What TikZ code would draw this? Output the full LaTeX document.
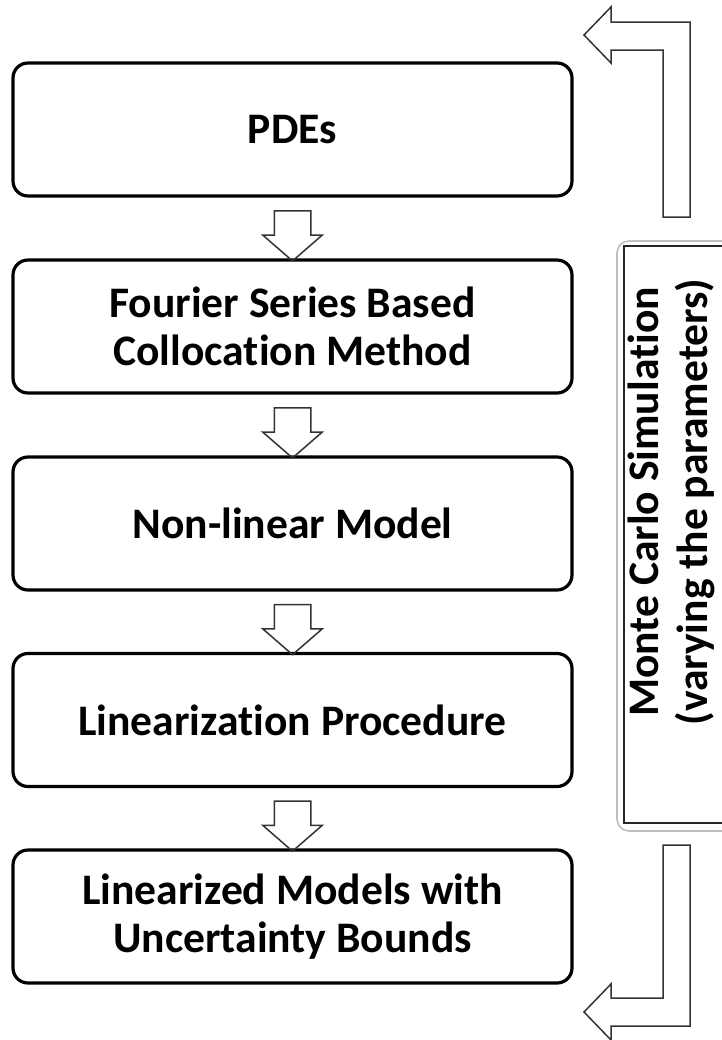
\documentclass[tikz,border=0pt]{standalone}
\usepackage{fontspec}
\setmainfont[Ligatures=CommonOff]{Carlito}
\usetikzlibrary{shapes.arrows}

\begin{document}
\begin{tikzpicture}[x=0.5pt,y=-0.5pt,
		stage/.style={draw,line width=1.6pt,rounded corners=7.5pt,minimum width=279.5pt,minimum height=66.5pt,align=center,font=\bfseries\fontsize{21.8}{23.8}\selectfont},
		downarrow/.style={draw=black!80,line width=0.75pt,single arrow,rotate=-90,minimum height=25pt,inner xsep=0pt,inner ysep=8.75pt,single arrow head extend=5.75pt,single arrow tip angle=98},
		bentarrow/.style={draw=black!80,line width=0.75pt,line join=miter}]
		\useasboundingbox (0,0) rectangle (722,1040);
		\node[stage](pde) at (292.5,129.5) {PDEs};
		\node[stage](fourier) at (292.5,326.5) {Fourier Series Based\\Collocation Method};
		\node[stage](nonlin) at (292.5,523.5) {Non-linear Model};
		\node[stage](linproc) at (292.5,720) {Linearization Procedure};
		\node[stage](linmod) at (292.5,916.5) {Linearized Models with\\Uncertainty Bounds};
		\path (pde) -- node[downarrow]{} (fourier);
		\path (fourier) -- node[downarrow]{} (nonlin);
		\path (nonlin) -- node[downarrow]{} (linproc);
		\path (linproc) -- node[downarrow]{} (linmod);
		% monte carlo frame
		\draw[black!25,line width=0.8pt,rounded corners=6pt] (617,241) rectangle (760,831);
		\draw[black!85,line width=1.2pt] (624,246) rectangle (750,823);
		\node[rotate=90,align=center,font=\bfseries\fontsize{21.8}{24.5}\selectfont](mc) at (671,502) {Monte Carlo Simulation\\(varying the parameters)};
		% feedback arrows
		\draw[bentarrow] (584,35) -- (611,7) -- (611,22) -- (690,22) -- (690,217) -- (663,217) -- (663,50) -- (611,50) -- (611,63) -- cycle;
		\draw[bentarrow] (663,845) -- (690,845) -- (690,1026) -- (611,1026) -- (611,1040) -- (584,1012) -- (611,984) -- (611,998) -- (663,998) -- cycle;
	\end{tikzpicture}
\end{document}
